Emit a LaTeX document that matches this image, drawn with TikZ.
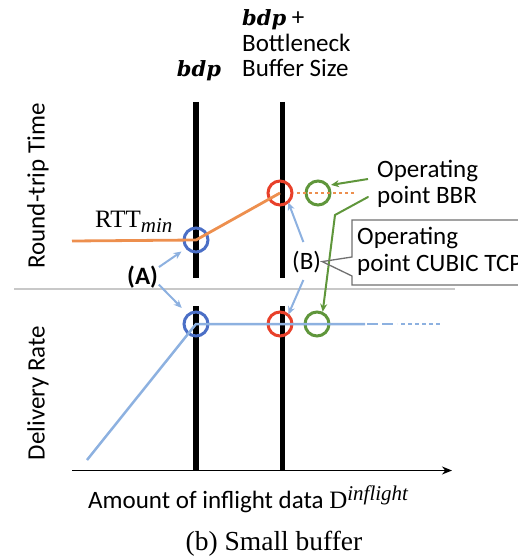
\documentclass[tikz,border=0pt]{standalone}
\usepackage{fontspec}
\setmainfont{Carlito}
\newfontfamily\tms{Liberation Serif}
\newfontfamily\bdpfont{DejaVu Serif}
\usetikzlibrary{arrows.meta}
\definecolor{rttorange}{HTML}{ED8F4E}
\definecolor{rateblue}{HTML}{8DB1E0}
\definecolor{ptblue}{HTML}{4B6FC6}
\definecolor{ptred}{HTML}{E8402A}
\definecolor{ptgreen}{HTML}{5F963B}
\definecolor{sepgray}{HTML}{C8C8C8}
\definecolor{boxgray}{HTML}{707070}
\newcommand{\bdpsym}{{\bdpfont\bfseries\itshape\fontsize{21}{21}\selectfont bdp}}
\begin{document}
\begin{tikzpicture}[x=1pt,y=-1pt,
  lbl/.style={font=\fontsize{25}{27}\selectfont, inner sep=0pt},
  bar/.style={line width=6pt},
  opt/.style={circle, draw, line width=3pt, minimum size=24pt, inner sep=0pt},
  tipb/.style={-{Stealth[length=8pt,width=7pt]}, line width=2pt, rateblue},
  tipg/.style={-{Stealth[length=8pt,width=7pt]}, line width=2pt, ptgreen}]
\useasboundingbox (0,0) rectangle (517,556);

% labels above the bars
\node[lbl, anchor=base west] (bufA) at (242,26) {\bdpsym\ +};
\node[lbl, anchor=base west] (bufB) at (242,52) {Bottleneck};
\node[lbl, anchor=base west] (bufC) at (242,77) {Buffer Size};
\node[lbl, anchor=base] (bdp) at (199,77) {\bdpsym};

% axis titles
\node[lbl, rotate=90] (ylabA) at (38,186) {Round-trip Time};
\node[lbl, rotate=90] (ylabB) at (38,393) {Delivery Rate};

% separator between the two panels
\draw[sepgray, line width=1.2pt] (14,289) -- (455,289);

% vertical marker bars
\draw[bar] (196,102) -- (196,278);
\draw[bar] (196,306) -- (196,470);
\draw[line width=5pt] (282,102) -- (282,278);
\draw[line width=5pt] (282,306) -- (282,470);

% x axis
\draw[-{Stealth[length=10pt,width=8pt]}, line width=1.6pt] (72,470.5) -- (452,470.5);

% operating points
\node[opt, ptblue] (bT) at (196,240) {};
\node[opt, ptred] (rT) at (280,193) {};
\node[opt, ptgreen] (gT) at (318,193) {};
\node[opt, ptblue] (bB) at (196,324) {};
\node[opt, ptred] (rB) at (280,324) {};
\node[opt, ptgreen] (gB) at (317,324) {};

% round-trip time curve
\draw[rttorange, line width=2.8pt] (72,241) -- (bT.center) -- (rT.center);
\draw[rttorange, line width=2.5pt, dash pattern=on 3pt off 3pt] (297,193) -- (355,193);

% delivery rate curve
\draw[rateblue, line width=2.5pt] (87,460) -- (bB.center) -- (365,324);
\draw[rateblue, line width=2.5pt, dash pattern=on 11pt off 4pt] (367,324) -- (397,324);
\draw[rateblue, line width=2.5pt, dash pattern=on 4pt off 3pt] (401,324) -- (442,324);

% RTT_min
\node[lbl, anchor=base west] (rtt) at (95,227) {\tms RTT\raisebox{-5pt}{\fontsize{21}{21}\selectfont\itshape min}};

% (A) annotations
\node[lbl, anchor=base west, font=\fontsize{25}{27}\selectfont\bfseries] (A) at (127,284) {(A)};
\draw[tipb, shorten <=1pt, shorten >=5pt] (A.30) -- (bT.220);
\draw[tipb, shorten <=1pt, shorten >=8pt] (A.-25) -- (bB.130);

% (B) annotations
\node[lbl, anchor=base west] (B) at (292,269) {(B)};
\draw[tipb, shorten <=9pt, shorten >=-1pt] (B.north) -- (rT.-50);
\draw[tipb, shorten <=8pt, shorten >=-1pt] (B.south) -- (rB.50);

% BBR operating point
\node[lbl, anchor=base west] (bbr1) at (377,177) {Operating};
\node[lbl, anchor=base west] (bbr2) at (377,203) {point BBR};
\coordinate (gtail1) at (368,179);
\coordinate (gtail2) at (368,197);
\coordinate (gbend) at (335,215);
\draw[tipg, shorten >=2pt] (gtail1) -- (gT.35);
\draw[tipg, line cap=round] (gtail2) -- (gbend) -- (gB.65);

% CUBIC TCP operating point callout
\coordinate (cTL) at (352,220);
\coordinate (cBL) at (352,285);
\draw[boxgray, line width=1.3pt, line join=miter]
  (540,220) -- (cTL) -- (352,257) -- ([xshift=1pt]B.east) -- (352,276) -- (cBL) -- (540,285);
\node[lbl, anchor=base west] (cub1) at (357,244) {Operating};
\node[lbl, anchor=base west] (cub2) at (357,271) {point CUBIC TCP};

% x axis title and caption
\node[lbl, anchor=base west] (xlab) at (88,508) {Amount of inflight data {\tms D\raisebox{8pt}{\fontsize{21}{21}\selectfont\itshape inflight}}};
\node[inner sep=0pt, anchor=base] (cap) at (274,550) {\tms\fontsize{27.5}{29}\selectfont (b) Small buffer};
\end{tikzpicture}
\end{document}
